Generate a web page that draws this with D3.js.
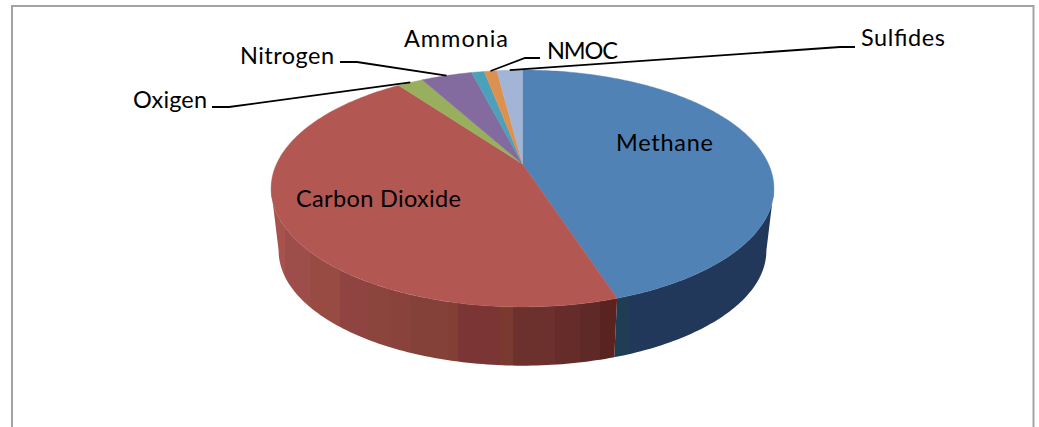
<!DOCTYPE html>
<html>
<head>
<meta charset="utf-8">
<style>
  html, body { margin: 0; padding: 0; background: #fff; }
  svg { display: block; }
  text { font-family: Lato, "Open Sans", sans-serif; fill: #000; }
</style>
<script src="https://cdn.jsdelivr.net/npm/d3@7/dist/d3.min.js"></script>
</head>
<body>
<svg id="chart" width="1039" height="427"></svg>
<script>
// Landfill gas composition, percent by volume, clockwise from twelve o'clock
const gases = ["Methane", "Carbon Dioxide", "Oxigen", "Nitrogen", "Ammonia", "NMOC", "Sulfides"];
const shares = [45, 45, 2, 4, 1, 1, 2];

// Top-face colours, one per gas
const topColors = ["#5082b5", "#b35752", "#98af5e", "#836a9f", "#4ba1b9", "#de904f", "#a2b5d7"];

// Vertical shading bands on the near wall: band start on the x axis, then colour
const redBandStarts = [270, 285, 310, 340, 367, 390, 410, 448, 458, 500, 513, 555, 580, 600];
const redBandColors = ["#a6534e", "#9e4e4a", "#974b42", "#8f4442", "#8c453c", "#8a433c", "#83413a",
  "#843f34", "#7b3535", "#7a3a30", "#6c302d", "#662c2a", "#5e2926", "#5a2320"];
const blueBandStarts = [600, 629];
const blueBandColors = ["#1f3d55", "#22385a"];

// Label anchors (left edge, baseline), drawn widths, and leader elbows
const labelX = [616, 296, 133, 240, 404, 547, 861];
const labelY = [151, 207, 108, 64, 47, 59, 46];
const labelWidth = [97, 165, 74, 94, 104, 71, 84];
const leaderElbows = [null, null,
  [[212, 107], [229, 107]],
  [[340, 62], [357, 62]],
  null,
  [[540, 58], [525, 58]],
  [[855, 47], [840, 47]]];

const svg = d3.select("#chart");
const defs = svg.append("defs");

// Chart frame: runs off the bottom of the page, so only three sides show
svg.append("path")
  .attr("d", d3.line()([[12, 427], [12, 6], [1033.5, 6], [1033.5, 427]]))
  .attr("fill", "none")
  .attr("stroke", "#a3a3a3")
  .attr("stroke-width", 2);

// Perspective projection of a disc lying in a plane tilted toward the viewer
const tilt = 0.2067;
function project(disc, theta) {
  const u = Math.sin(theta), v = -Math.cos(theta), w = 1 - tilt * v;
  return [disc.cx + disc.a * u / w, disc.cy + disc.b * v / w];
}
const topDisc = { cx: 522.5, cy: 164, a: 246, b: 113.4 };
const baseDisc = { cx: 522.5, cy: 227, a: 238.6, b: 110 };

// Angles at which the rim reaches its widest left and right extent
const rightExtreme = Math.acos(-tilt);
const leftExtreme = 2 * Math.PI - rightExtreme;

const arcs = d3.pie().sort(null).value(d => d)(shares);
const line = d3.line();
const sampleAngles = (from, to) => d3.range(0, 1.0001, 1 / Math.max(2, Math.ceil((to - from) * 60)))
  .map(t => from + (to - from) * t);

// Hard-edged gradient spanning the disc's width
const wallOffset = d3.scaleLinear().domain([270, 775]).range([0, 1]);
function bandGradient(id, starts, colors) {
  const g = defs.append("linearGradient")
    .attr("id", id)
    .attr("gradientUnits", "userSpaceOnUse")
    .attr("x1", 270).attr("x2", 775).attr("y1", 0).attr("y2", 0);
  starts.forEach((start, i) => {
    const end = i + 1 < starts.length ? starts[i + 1] : 775;
    g.append("stop").attr("offset", wallOffset(start)).attr("stop-color", colors[i]);
    g.append("stop").attr("offset", wallOffset(end)).attr("stop-color", colors[i]);
  });
}
bandGradient("wallRed", redBandStarts, redBandColors);
bandGradient("wallBlue", blueBandStarts, blueBandColors);

// Side walls first, only the part of each slice facing the viewer
const walls = [
  { from: Math.max(arcs[0].startAngle, rightExtreme), to: arcs[0].endAngle, fill: "url(#wallBlue)" },
  { from: arcs[1].startAngle, to: Math.min(arcs[1].endAngle, leftExtreme), fill: "url(#wallRed)" }
];
svg.append("g").selectAll("path").data(walls).join("path")
  .attr("d", w => {
    const thetas = sampleAngles(w.from, w.to);
    const rim = thetas.map(t => project(topDisc, t));
    const foot = thetas.map(t => project(baseDisc, t)).reverse();
    return line(rim.concat(foot)) + "Z";
  })
  .attr("fill", w => w.fill);

// Top face
svg.append("g").selectAll("path").data(arcs).join("path")
  .attr("d", a => line([[topDisc.cx, topDisc.cy],
    ...sampleAngles(a.startAngle, a.endAngle).map(t => project(topDisc, t))]) + "Z")
  .attr("fill", (a, i) => topColors[i])
  .attr("stroke", (a, i) => topColors[i])
  .attr("stroke-width", 0.4);

// Leader lines end on the rim at each slice's mid angle
svg.append("g").selectAll("path")
  .data(arcs.map((a, i) => ({ a, elbow: leaderElbows[i] })).filter(d => d.elbow))
  .join("path")
  .attr("d", d => line([...d.elbow, project(topDisc, (d.a.startAngle + d.a.endAngle) / 2)]))
  .attr("fill", "none")
  .attr("stroke", "#000")
  .attr("stroke-width", 1.8);

svg.append("g").selectAll("text").data(gases).join("text")
  .attr("x", (d, i) => labelX[i])
  .attr("y", (d, i) => labelY[i])
  .attr("font-size", 23.5)
  .attr("textLength", (d, i) => labelWidth[i])
  .attr("lengthAdjust", "spacing")
  .text(d => d);
</script>
</body>
</html>
